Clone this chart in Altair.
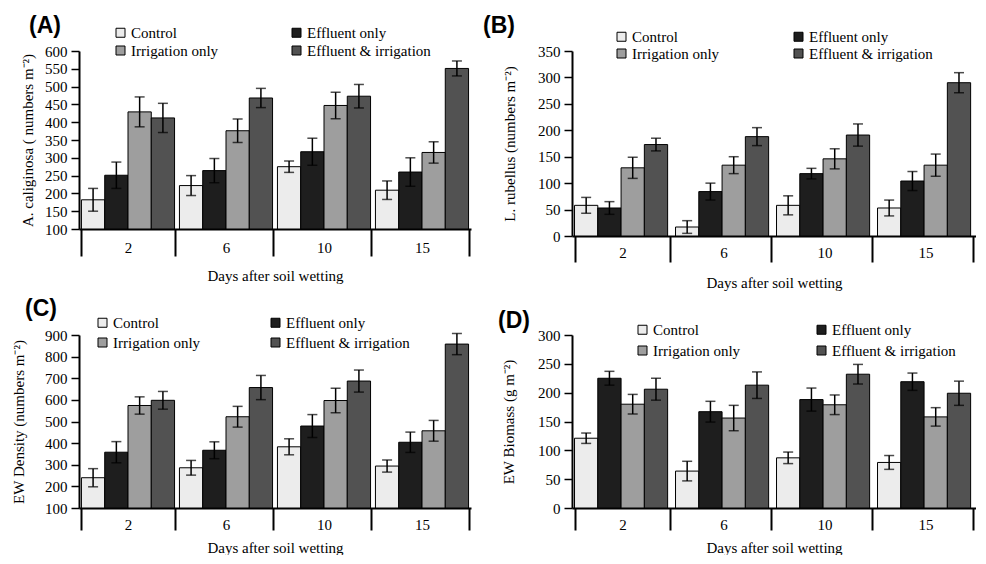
import altair as alt
import pandas as pd

days = ["2", "6", "10", "15"]
treatments = ["Control", "Effluent only", "Irrigation only", "Effluent & irrigation"]
fills = ["#ececec", "#1e1e1e", "#9e9e9e", "#525252"]

# (A) A. caliginosa, numbers m-2  (rows = days, columns = treatments)
a_means = [[182, 251, 429, 412], [222, 264, 376, 468], [275, 317, 447, 473], [209, 260, 315, 551]]
a_errs = [[32, 37, 42, 41], [28, 34, 33, 27], [16, 38, 37, 33], [26, 40, 30, 21]]

# (B) L. rubellus, numbers m-2
b_means = [[58, 53, 129, 173], [17, 84, 134, 188], [58, 118, 146, 191], [53, 104, 134, 290]]
b_errs = [[15, 12, 20, 12], [12, 16, 16, 17], [18, 10, 19, 21], [15, 18, 21, 19]]

# (C) EW density, numbers m-2
c_means = [[240, 358, 574, 598], [286, 367, 522, 657], [383, 479, 597, 687], [294, 404, 457, 858]]
c_errs = [[42, 49, 40, 41], [34, 39, 48, 56], [37, 53, 57, 51], [28, 47, 48, 49]]

# (D) EW biomass, g m-2
d_means = [[121, 225, 180, 206], [64, 167, 156, 213], [87, 188, 179, 232], [79, 219, 158, 199]]
d_errs = [[9, 12, 17, 19], [17, 18, 22, 23], [10, 20, 17, 17], [12, 15, 16, 21]]

SERIF = "Liberation Serif"
SANS = "Liberation Sans"


def panel(means, errs, ymin, ymax, ystep, ytitle, label, w, h,
          lx, ly, colpad, rowpad, t_off, t_dx, y_tpad, x_tick, x_lpad, x_tpad):
    rows = []
    for di, d in enumerate(days):
        for ti, t in enumerate(treatments):
            rows.append({"day": d, "trt": t, "mean": means[di][ti], "err": errs[di][ti]})
    df = pd.DataFrame(rows)
    base = alt.Chart(df)

    xscale = alt.Scale(paddingInner=0.05, paddingOuter=0.025)
    xo = alt.XOffset("trt:N", sort=treatments, scale=alt.Scale(paddingInner=0, paddingOuter=0))
    yscale = alt.Scale(domain=[ymin, ymax], nice=False, zero=False)

    x_axis = alt.Axis(
        title="Days after soil wetting", labelAngle=0, tickBand="extent",
        tickSize=x_tick, tickWidth=2, tickColor="black", domainColor="black",
        domainWidth=2, labelFont=SERIF, labelFontSize=15, labelColor="black",
        labelPadding=x_lpad, titleFont=SERIF, titleFontSize=15,
        titleFontWeight="normal", titleColor="black", titlePadding=x_tpad,
    )
    y_axis = alt.Axis(
        title=ytitle, values=list(range(ymin, ymax + 1, ystep)), grid=False,
        domainColor="black", domainWidth=2, tickColor="black", tickSize=8,
        tickWidth=1.5, labelFont=SERIF, labelFontSize=15, labelColor="black",
        labelPadding=4, labelFlush=False, labelOverlap=False,
        titleFont=SERIF, titleFontSize=15, titleFontWeight="normal",
        titleColor="black", titlePadding=y_tpad,
    )
    legend = alt.Legend(
        title=None, orient="none", legendX=lx, legendY=ly, columns=2,
        direction="horizontal",
        columnPadding=colpad, rowPadding=rowpad, symbolType="square",
        symbolSize=81, symbolStrokeColor="black", symbolStrokeWidth=1,
        symbolOpacity=1, labelFont=SERIF, labelFontSize=15, labelColor="black",
        labelOffset=3, padding=0,
    )
    xenc = alt.X("day:N", sort=days, scale=xscale, axis=x_axis)

    bars = base.mark_bar(stroke="black", strokeWidth=1).encode(
        x=xenc,
        xOffset=xo,
        y=alt.Y("mean:Q", scale=yscale, axis=y_axis),
        y2=alt.datum(ymin),
        fill=alt.Fill("trt:N", sort=treatments,
                      scale=alt.Scale(domain=treatments, range=fills), legend=legend),
    )
    withci = base.transform_calculate(
        lo="datum.mean - datum.err", hi="datum.mean + datum.err")
    rule = withci.mark_rule(color="black", strokeWidth=1.5).encode(
        x=xenc,
        xOffset=xo,
        y=alt.Y("lo:Q", scale=yscale, axis=y_axis),
        y2="hi:Q",
    )
    caps = withci.transform_fold(["lo", "hi"], as_=["end", "v"]).mark_tick(
        color="black", thickness=1.5, size=10).encode(
        x=xenc,
        xOffset=xo,
        y=alt.Y("v:Q", scale=yscale, axis=y_axis),
    )
    title = alt.TitleParams(
        text=label, anchor="start", frame="group", font=SANS, fontSize=23,
        fontWeight="bold", color="black", offset=t_off, dx=t_dx,
    )
    return alt.layer(bars, rule, caps).properties(width=w, height=h, title=title)


pa = panel(a_means, a_errs, 100, 600, 50, "A. caliginosa ( numbers m\u207b\u00b2)",
           "(A)", 392, 178, 34, -26, 70, 2, -13, -50, 9, 27, -16, 11)
pb = panel(b_means, b_errs, 0, 350, 50, "L. rubellus (numbers m\u207b\u00b2)",
           "(B)", 404, 185, 42, -22, 71, 1, -9, -89, 20, 26, -17, 12)
pc = panel(c_means, c_errs, 100, 900, 100, "EW Density (numbers m\u207b\u00b2)",
           "(C)", 392, 173, 16, -20, 67, 4, -6, -54, 18, 22, -13, 8)
pd_ = panel(d_means, d_errs, 0, 300, 50, "EW Biomass (g m\u207b\u00b2)",
            "(D)", 404, 173, 63, -13, 73, 5, -11, -74, 21, 22, -13, 8)

chart = alt.concat(
    pa, pb, pc, pd_, columns=2, align="each", bounds="flush",
    spacing={"row": 99, "column": 101},
).resolve_scale(
    fill="independent"
).resolve_legend(
    fill="independent"
).properties(
    padding={"left": 3, "top": 7, "right": 0, "bottom": 0}
).configure(
    font=SERIF
).configure_view(
    stroke=None
).configure_legend(
    labelFont=SERIF, labelFontSize=15, labelColor="black"
)

chart.save("out.html", embed_options={"renderer": "svg", "actions": False})
